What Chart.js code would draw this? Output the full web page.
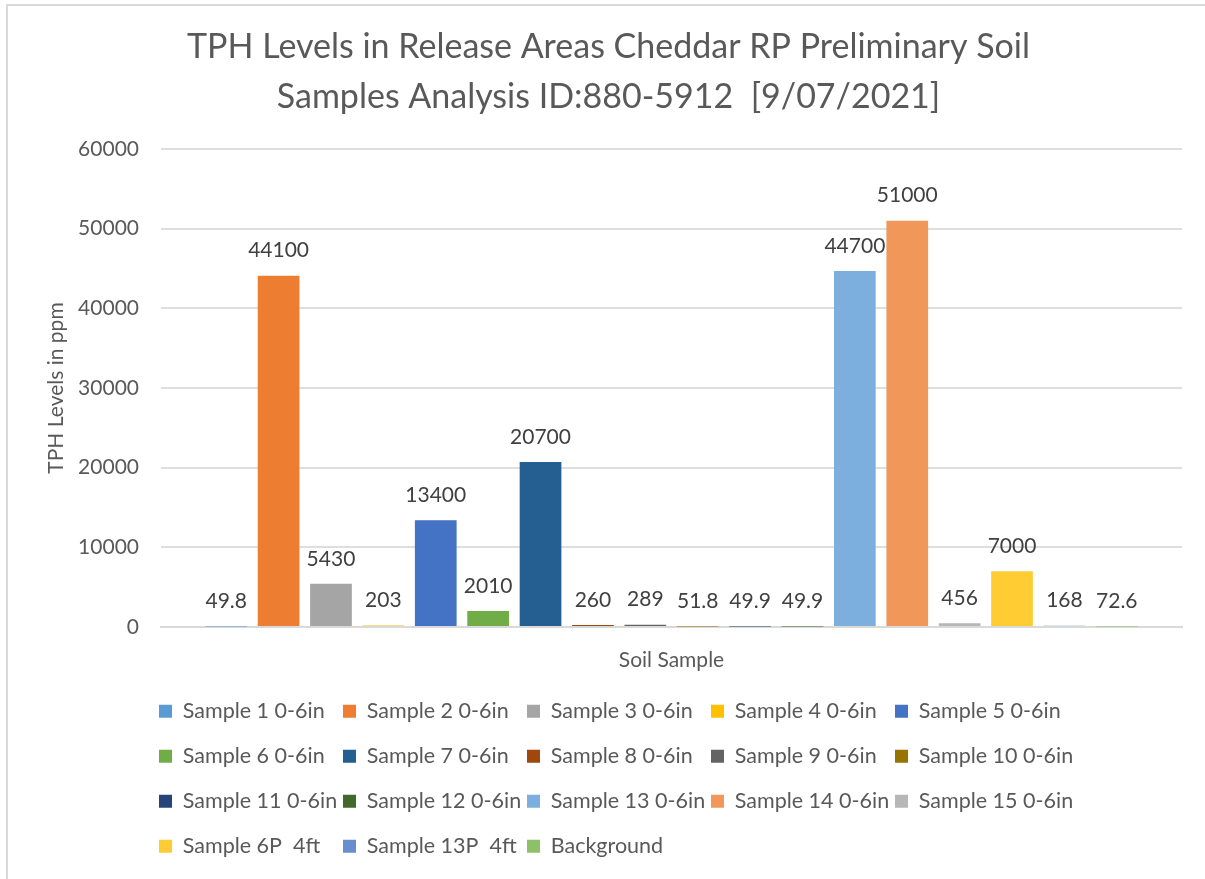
<!DOCTYPE html>
<html>
<head>
<meta charset="utf-8">
<script src="https://cdn.jsdelivr.net/npm/chart.js@4.4.0/dist/chart.umd.min.js"></script>
<style>
  html, body { margin: 0; padding: 0; background: #ffffff; overflow: hidden; }
  #wrap { position: relative; width: 1205px; height: 879px; }
  #frame { position: absolute; left: 6px; top: 4px; width: 1400px; height: 1000px; border: 2px solid #d9d9d9; box-sizing: border-box; pointer-events: none; }
  canvas { position: absolute; left: 0; top: 0; }
</style>
</head>
<body>
<div id="wrap">
  <div id="frame"></div>
  <canvas id="c" width="1205" height="879"></canvas>
</div>
<script>
// ---- data ----
const titleLines = ["TPH Levels in Release Areas Cheddar RP Preliminary Soil", "Samples Analysis ID:880-5912  [9/07/2021]"];
const categories = [""];
const seriesNames = [
  "Sample 1 0-6in", "Sample 2 0-6in", "Sample 3 0-6in", "Sample 4 0-6in", "Sample 5 0-6in",
  "Sample 6 0-6in", "Sample 7 0-6in", "Sample 8 0-6in", "Sample 9 0-6in", "Sample 10 0-6in",
  "Sample 11 0-6in", "Sample 12 0-6in", "Sample 13 0-6in", "Sample 14 0-6in", "Sample 15 0-6in",
  "Sample 6P  4ft", "Sample 13P  4ft", "Background"
];
const seriesValues = [49.8, 44100, 5430, 203, 13400, 2010, 20700, 260, 289, 51.8, 49.9, 49.9, 44700, 51000, 456, 7000, 168, 72.6];
const seriesColors = [
  "#5B9BD5", "#ED7D31", "#A5A5A5", "#FFC000", "#4472C4",
  "#70AD47", "#255E91", "#9E480E", "#636363", "#997300",
  "#264478", "#43682B", "#7CAFDD", "#F1975A", "#B7B7B7",
  "#FFCD33", "#698ED0", "#8CC168"
];
const yTicks = [0, 10000, 20000, 30000, 40000, 50000, 60000];
const yTitle = "TPH Levels in ppm";
const xTitle = "Soil Sample";

const FONT = "Lato, 'Liberation Sans', sans-serif";
const canvas = document.getElementById('c');
const ctx = canvas.getContext('2d');

// uniform legend column widths (Excel-like grid legend)
const legendSet = new Set(seriesNames);
const LEGEND_TEXT_W = 136.75;
const origMeasure = ctx.measureText.bind(ctx);
ctx.measureText = function (t) {
  if (legendSet.has(t)) return { width: LEGEND_TEXT_W };
  return origMeasure(t);
};

const legendShift = {
  id: 'legendShift',
  afterLayout(chart) {
    if (chart.legend) {
      chart.legend.left = 135.5;
      chart.legend.right = 1205;
    }
  }
};

const dataLabels = {
  id: 'dataLabels',
  afterDatasetsDraw(chart) {
    const c = chart.ctx;
    c.save();
    c.font = "21px " + FONT;
    c.fillStyle = "#404040";
    c.textAlign = "center";
    c.textBaseline = "middle";
    chart.data.datasets.forEach((ds, i) => {
      const meta = chart.getDatasetMeta(i);
      meta.data.forEach((el, j) => {
        c.fillText(String(ds.data[j]), el.x, el.y - 25);
      });
    });
    c.restore();
  }
};

const datasets = seriesNames.map((name, i) => ({
  label: name,
  data: [seriesValues[i]],
  backgroundColor: seriesColors[i],
  borderWidth: 0,
  categoryPercentage: 0.9236,
  barPercentage: 0.796
}));

new Chart(ctx, {
  type: 'bar',
  data: { labels: categories, datasets },
  plugins: [legendShift, dataLabels],
  options: {
    responsive: false,
    animation: false,
    events: [],
    layout: { padding: { left: 35, right: 23, top: 0, bottom: 12 } },
    plugins: {
      title: {
        display: true,
        text: titleLines,
        color: "#595959",
        font: { family: FONT, size: 34, weight: 'normal', lineHeight: 50 / 34 },
        padding: { top: 22, bottom: 27 }
      },
      legend: {
        display: true,
        position: 'bottom',
        align: 'start',
        fullSize: false,
        labels: {
          boxWidth: 13,
          boxHeight: 13,
          padding: 23.5,
          color: "#595959",
          font: { family: FONT, size: 21.5 }
        }
      },
      tooltip: { enabled: false }
    },
    scales: {
      x: {
        grid: { display: false },
        border: { display: true, color: "#d9d9d9", width: 2 },
        ticks: { display: false },
        title: {
          display: true,
          text: xTitle,
          color: "#595959",
          font: { family: FONT, size: 21 },
          padding: { top: 4, bottom: 4 }
        },
        afterFit(s) { s.height = 50; }
      },
      y: {
        min: 0,
        max: 60000,
        afterBuildTicks(s) { s.ticks = yTicks.map(v => ({ value: v })); },
        ticks: {
          color: "#595959",
          padding: 22,
          font: { family: FONT, size: 21 },
          callback: v => String(v)
        },
        grid: { color: "#dedede", lineWidth: 2, drawTicks: false },
        border: { display: false },
        title: {
          display: true,
          text: yTitle,
          color: "#595959",
          font: { family: FONT, size: 21 },
          padding: { top: 9, bottom: 0 }
        },
        afterFit(s) { s.width = 126; }
      }
    }
  }
});
</script>
</body>
</html>
